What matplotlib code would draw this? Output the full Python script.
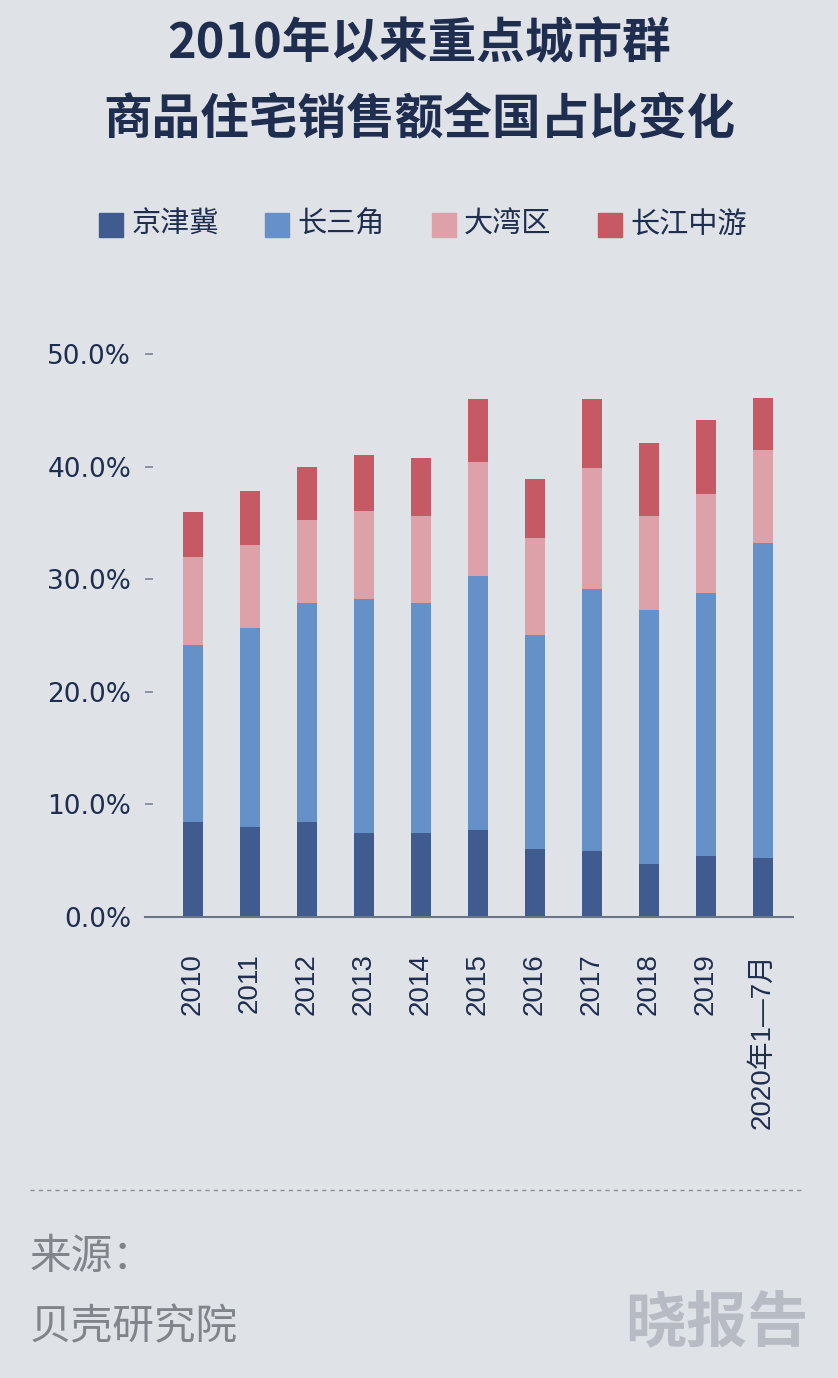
import numpy as np
from matplotlib import pyplot as plt
from matplotlib.patches import Rectangle
from matplotlib.lines import Line2D

plt.rcParams['font.family'] = ['Noto Sans CJK SC', 'DejaVu Sans']

# Data (share of national residential sales, %)
years = ['2010', '2011', '2012', '2013', '2014', '2015', '2016', '2017', '2018', '2019', '2020年1—7月']
jjj = [8.4, 8.0, 8.4, 7.5, 7.5, 7.7, 6.0, 5.9, 4.7, 5.4, 5.2]        # 京津冀
csj = [15.8, 17.7, 19.5, 20.7, 20.4, 22.6, 19.0, 23.2, 22.6, 23.4, 28.0]  # 长三角
dwq = [7.8, 7.3, 7.4, 7.9, 7.7, 10.1, 8.7, 10.8, 8.3, 8.8, 8.3]       # 大湾区
cjzy = [4.0, 4.8, 4.7, 4.9, 5.2, 5.6, 5.2, 6.1, 6.5, 6.5, 4.6]        # 长江中游
series_names = ['京津冀', '长三角', '大湾区', '长江中游']
colors = ['#3f5b8f', '#6690c8', '#dda1a9', '#c55a65']
yticks = [0, 10, 20, 30, 40, 50]

bg = '#dfe2e7'
navy = '#1f2d4f'

fig = plt.figure(figsize=(8.38, 13.78), dpi=100)
fig.patch.set_facecolor(bg)

W, H = 838, 1378
ax = fig.add_axes([145 / W, 1 - 917 / H, (793 - 145) / W, (917 - 354) / H])
ax.set_facecolor(bg)

x = np.arange(len(years))
bottom = np.zeros(len(years))
for vals, c in zip([jjj, csj, dwq, cjzy], colors):
    ax.bar(x, vals, bottom=bottom, width=0.35, color=c, linewidth=0)
    bottom += np.array(vals)

ax.set_xlim(-0.84, 10.53)
ax.set_ylim(0, 50)
ax.set_yticks(yticks)
ax.set_yticklabels([f'{v:.1f}%' for v in yticks], family='DejaVu Sans', fontsize=19, color=navy)
ax.tick_params(axis='y', direction='in', length=6, width=1.2, color='#7d8594', pad=10)
ax.set_xticks(x)
ax.set_xticklabels(years, rotation=90, fontsize=20, color=navy,
                   family=['Liberation Sans', 'Noto Sans CJK SC'])
ax.tick_params(axis='x', length=0, pad=26)
for s in ['top', 'right', 'left']:
    ax.spines[s].set_visible(False)
ax.spines['bottom'].set_color('#6b7587')
ax.spines['bottom'].set_linewidth(1.5)

# Title
fig.text(0.5, 1 - 44 / H, '2010年以来重点城市群', ha='center', va='center',
         fontsize=35, fontweight='bold', color=navy)
fig.text(0.5, 1 - 119 / H, '商品住宅销售额全国占比变化', ha='center', va='center',
         fontsize=35, fontweight='bold', color=navy)

# Legend
leg_x = [99, 265, 432, 598]
for lx, name, c in zip(leg_x, series_names, colors):
    fig.patches.append(Rectangle((lx / W, 1 - 237 / H), 24 / W, 24 / H,
                                 transform=fig.transFigure, color=c))
    fig.text((lx + 32) / W, 1 - 225 / H, name, ha='left', va='center',
             fontsize=21, color=navy)

# Footer
fig.lines.append(Line2D([30 / W, 805 / W], [1 - 1190 / H, 1 - 1190 / H],
                        transform=fig.transFigure, color='#8a8f99',
                        linestyle=(0, (3, 3)), linewidth=1))
fig.text(30 / W, 1 - 1257 / H, '来源：', ha='left', va='center', fontsize=30, color='#80848b')
fig.text(30 / W, 1 - 1328 / H, '贝壳研究院', ha='left', va='center', fontsize=30, color='#80848b')
fig.text(808 / W, 1 - 1325 / H, '晓报告', ha='right', va='center', fontsize=44,
         fontweight='bold', color='#b7bbc3')

fig.savefig('out.png', dpi=100, facecolor=bg)
